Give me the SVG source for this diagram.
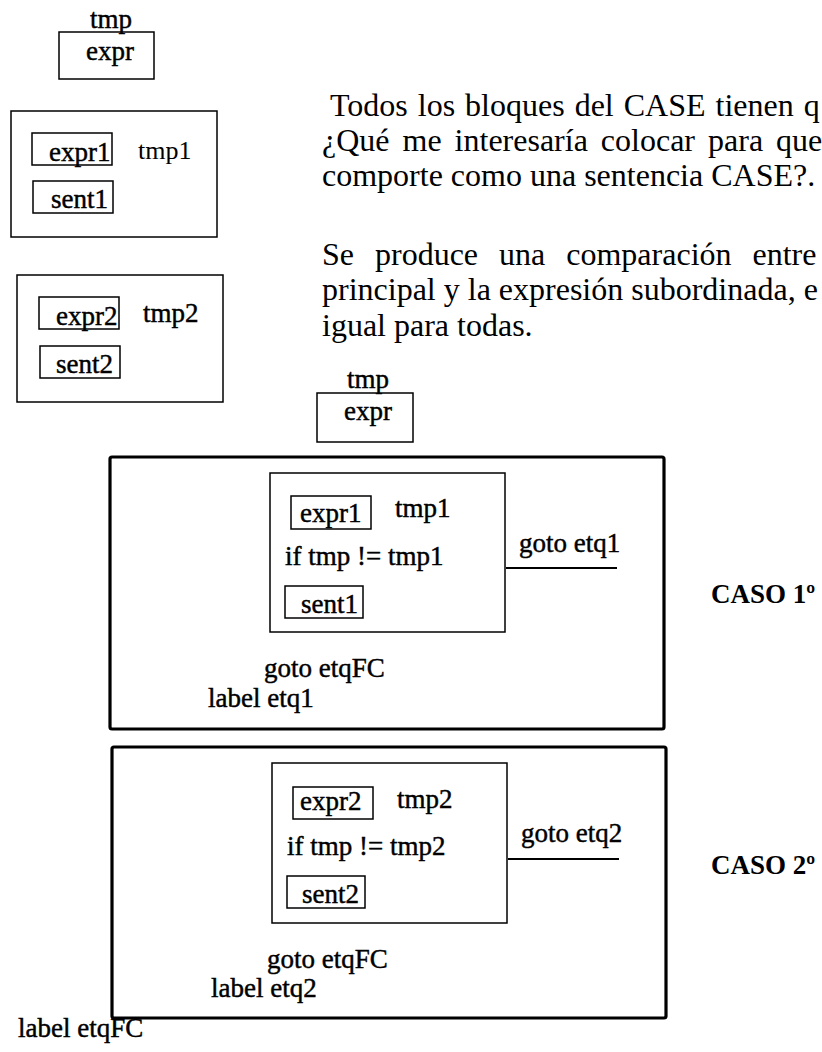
<svg xmlns="http://www.w3.org/2000/svg" width="822" height="1052" viewBox="0 0 822 1052">
<style>
.bg{fill:#fff}
.box{fill:none;stroke:#000;stroke-width:1.5}
.big{fill:none;stroke:#000;stroke-width:3.2}
.lbl{font-family:"Liberation Serif","Times New Roman",serif;font-size:27px;fill:#000;stroke:#000;stroke-width:0.45}
.reg{font-family:"Liberation Serif","Times New Roman",serif;font-size:26px;fill:#000}
.par{font-family:"Liberation Serif","Times New Roman",serif;font-size:32px;fill:#000}
.caso{font-family:"Liberation Serif","Times New Roman",serif;font-size:27px;font-weight:bold;fill:#000}
.conn{stroke:#000;stroke-width:2;fill:none}
</style>
<rect class="bg" x="0" y="0" width="822" height="1052"/>

<g id="top-expr">
<text class="lbl" x="90" y="28">tmp</text>
<rect class="box" x="59" y="32" width="95" height="47"/>
<text class="lbl" x="86" y="60">expr</text>
</g>

<g id="block1">
<rect class="box" x="11" y="111" width="206" height="126"/>
<rect class="box" x="32" y="133" width="80" height="32"/>
<text class="lbl" x="49" y="161">expr1</text>
<text class="reg" x="138" y="159">tmp1</text>
<rect class="box" x="33" y="181" width="80" height="32"/>
<text class="lbl" x="51" y="208">sent1</text>
</g>

<g id="block2">
<rect class="box" x="17" y="275" width="206" height="127"/>
<rect class="box" x="39" y="297" width="80" height="32"/>
<text class="lbl" x="56" y="325">expr2</text>
<text class="lbl" x="143" y="322">tmp2</text>
<rect class="box" x="40" y="346" width="80" height="32"/>
<text class="lbl" x="56" y="373">sent2</text>
</g>

<g id="paragraph">
<text class="par" x="330" y="116" word-spacing="2">Todos los bloques del CASE tienen q</text>
<text class="par" x="322" y="151" word-spacing="5">¿Qué me interesaría colocar para que</text>
<text class="par" x="322" y="186">comporte como una sentencia CASE?.</text>
<text class="par" x="322" y="265" word-spacing="13">Se produce una comparación entre</text>
<text class="par" x="322" y="300">principal y la expresión subordinada, e</text>
<text class="par" x="322" y="336">igual para todas.</text>
</g>

<g id="main-expr">
<text class="lbl" x="347" y="388">tmp</text>
<rect class="box" x="317" y="393" width="96" height="49"/>
<text class="lbl" x="344" y="420">expr</text>
</g>

<g id="case1">
<rect class="big" x="110" y="457" width="554" height="272" rx="2"/>
<rect class="box" x="270" y="473" width="235" height="159"/>
<rect class="box" x="291" y="496" width="80" height="33"/>
<text class="lbl" x="300" y="522">expr1</text>
<text class="lbl" x="395" y="517">tmp1</text>
<text class="lbl" x="285" y="565">if tmp != tmp1</text>
<rect class="box" x="285" y="586" width="78" height="32"/>
<text class="lbl" x="301" y="613">sent1</text>
<text class="lbl" x="519" y="552">goto etq1</text>
<text class="lbl" x="264" y="677">goto etqFC</text>
<text class="lbl" x="208" y="707">label etq1</text>
</g>
<g id="caso1-label">
<text class="caso" x="711" y="603">CASO 1º</text>
</g>

<g id="case2">
<rect class="big" x="112" y="747" width="554" height="271" rx="2"/>
<rect class="box" x="272" y="763" width="235" height="160"/>
<rect class="box" x="293" y="787" width="80" height="32"/>
<text class="lbl" x="300" y="810">expr2</text>
<text class="lbl" x="397" y="808">tmp2</text>
<text class="lbl" x="287" y="855">if tmp != tmp2</text>
<rect class="box" x="287" y="876" width="78" height="32"/>
<text class="lbl" x="302" y="903">sent2</text>
<text class="lbl" x="521" y="842">goto etq2</text>
<text class="lbl" x="267" y="968">goto etqFC</text>
<text class="lbl" x="211" y="997">label etq2</text>
</g>
<g id="caso2-label">
<text class="caso" x="711" y="874">CASO 2º</text>
</g>

<g id="end-label">
<text class="lbl" x="18" y="1037">label etqFC</text>
</g>

<g id="connectors">
<line class="conn" x1="506" y1="568" x2="617" y2="568"/>
<line class="conn" x1="508" y1="859" x2="619" y2="859"/>
</g>
</svg>
